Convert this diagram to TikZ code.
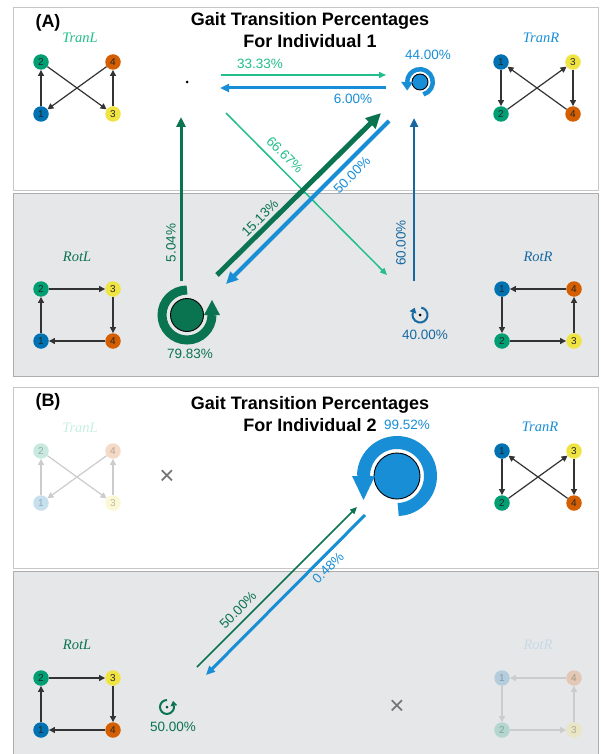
\documentclass[tikz,border=0pt]{standalone}
\usepackage{fontspec}
\setmainfont{Liberation Sans}
\newfontfamily\labfont{Liberation Serif}
\usetikzlibrary{arrows.meta,calc}

\definecolor{tranl}{RGB}{34,190,140}
\definecolor{tranr}{RGB}{24,142,215}
\definecolor{rotl}{RGB}{10,115,80}
\definecolor{rotr}{RGB}{22,105,160}
\definecolor{c1}{RGB}{0,114,178}
\definecolor{c2}{RGB}{0,158,115}
\definecolor{c3}{RGB}{240,228,66}
\definecolor{c4}{RGB}{213,94,0}
\definecolor{panelgray}{RGB}{230,231,233}

\tikzset{
  panelw/.style={draw=black!22, line width=0.9pt, fill=white},
  panelg/.style={draw=black!32, line width=0.9pt, fill=panelgray},
  gnode/.style={circle, minimum size=15.5pt, inner sep=0pt, font=\fontsize{10}{10}\selectfont, text=black!85},
  gedge/.style={-{Triangle[length=6pt,width=6pt]}, line width=1.2pt, draw=black!80},
  fadednode/.style={fill opacity=0.22, text opacity=0.3},
  fadededge/.style={draw=black!20},
  glabel/.style={font=\labfont\itshape\fontsize{14.5}{14.5}\selectfont},
  pct/.style={font=\fontsize{13.5}{13.5}\selectfont, inner sep=0pt},
  ttl/.style={font=\bfseries\fontsize{18}{22}\selectfont, align=center, inner sep=0pt},
  tag/.style={font=\bfseries\fontsize{18}{18}\selectfont, inner sep=0pt},
  tarr/.style 2 args={-{Triangle[length=#1, width=#2]}},
  cross/.style={font=\fontsize{26}{26}\selectfont, text=black!55, inner sep=0pt},
  ctr/.style={circle, draw=black, line width=0.9pt, inner sep=0pt},
  dotc/.style={circle, fill=black, inner sep=0pt, minimum size=3pt},
}

% four nodes of a gait graph: prefix, top-left position, TL, TR, BL, BR numbers, extra style
\newcommand{\gaitquad}[7]{%
  \begin{scope}[shift={(#2)}]
    \node[gnode, fill=c#3, #7] (#1tl) at (0,0) {#3};
    \node[gnode, fill=c#4, #7] (#1tr) at (72,0) {#4};
    \node[gnode, fill=c#5, #7] (#1bl) at (0,-52) {#5};
    \node[gnode, fill=c#6, #7] (#1br) at (72,-52) {#6};
  \end{scope}}
\newcommand{\edgesTranL}[2]{%
  \draw[gedge,#2] (#1bl) -- (#1tl); \draw[gedge,#2] (#1br) -- (#1tr);
  \draw[gedge,#2] (#1tl) -- (#1br); \draw[gedge,#2] (#1tr) -- (#1bl);}
\newcommand{\edgesTranR}[2]{%
  \draw[gedge,#2] (#1tl) -- (#1bl); \draw[gedge,#2] (#1tr) -- (#1br);
  \draw[gedge,#2] (#1bl) -- (#1tr); \draw[gedge,#2] (#1br) -- (#1tl);}
\newcommand{\edgesRotL}[2]{%
  \draw[gedge,#2] (#1tl) -- (#1tr); \draw[gedge,#2] (#1tr) -- (#1br);
  \draw[gedge,#2] (#1br) -- (#1bl); \draw[gedge,#2] (#1bl) -- (#1tl);}
\newcommand{\edgesRotR}[2]{%
  \draw[gedge,#2] (#1tr) -- (#1tl); \draw[gedge,#2] (#1tl) -- (#1bl);
  \draw[gedge,#2] (#1bl) -- (#1br); \draw[gedge,#2] (#1br) -- (#1tr);}

% self-loop ring: center, colour, radius, width, start, end, tip half-width, tip length (signed)
\newcommand{\ringarc}[8]{%
  \pgfmathsetmacro{\myrin}{#3-#7}%
  \pgfmathsetmacro{\myrout}{#3+#7}%
  \pgfmathsetmacro{\mytang}{#6+90}%
  \draw[draw=#2, line width=#4pt] ($(#1)+(#5:#3)$) arc[start angle=#5, end angle=#6, radius=#3];
  \fill[#2] ($(#1)+(#6:\myrin)$) -- ($(#1)+(#6:\myrout)$) -- ($(#1)+(#6:#3)+(\mytang:#8)$) -- cycle;}

\begin{document}
\begin{tikzpicture}[x=1pt, y=1pt]
\useasboundingbox (0,0) rectangle (600,-754);
\fill[white] (0,0) rectangle (600,-754);

% panels
\draw[panelw] (13,-7) rectangle (598.5,-190);
\draw[panelg] (13,-193.5) rectangle (598.5,-376);
\draw[panelw] (13,-387) rectangle (598.5,-568);
\draw[panelg] (13,-571) rectangle (598.5,-758);

% ================= Panel A =================
\node[tag] (tagA) at (48,-23) {(A)};
\node[ttl] (titleA) at (310,-30) {Gait Transition Percentages\\For Individual 1};

% gait graphs
\node[glabel, text=tranl] (labA1) at (80,-38) {TranL};
\gaitquad{aTL}{41,-62}{2}{4}{1}{3}{}
\edgesTranL{aTL}{}
\node[glabel, text=tranr] (labA2) at (541,-38) {TranR};
\gaitquad{aTR}{501,-62}{1}{3}{2}{4}{}
\edgesTranR{aTR}{}
\node[glabel, text=rotl] (labA3) at (77,-257) {RotL};
\gaitquad{aRL}{41,-289}{2}{3}{1}{4}{}
\edgesRotL{aRL}{}
\node[glabel, text=rotr] (labA4) at (538,-257) {RotR};
\gaitquad{aRR}{502,-289}{1}{4}{2}{3}{}
\edgesRotR{aRR}{}

% states
\node[dotc] (sTL) at (187,-82) {};
\node[ctr, fill=tranr, minimum size=16pt] (sTR) at (420,-82) {};
\ringarc{sTR}{tranr}{12.8}{4.5}{-75}{180}{6}{8.5}
\node[pct, text=tranr] (pTR) at (428,-55) {44.00\%};
\node[ctr, fill=rotl, minimum size=33pt] (sRL) at (187,-315) {};
\ringarc{sRL}{rotl}{25}{9}{90}{360}{8}{15}
\node[pct, text=rotl] (pRL) at (190,-354) {79.83\%};
\node[dotc] (sRR) at (420,-315) {};
\ringarc{sRR}{rotr}{7.5}{2}{80}{-200}{3.6}{-5}
\node[pct, text=rotr] (pRR) at (425,-335) {40.00\%};

% transition arrows
\coordinate (a1s) at (221,-75);  \coordinate (a1e) at (386,-75);
\draw[tranl, line width=1.5pt, tarr={7pt}{6pt}] (a1s) -- (a1e);
\node[pct, text=tranl] (l1) at (260,-64) {33.33\%};
\coordinate (a2s) at (386,-88);  \coordinate (a2e) at (220,-88);
\draw[tranr, line width=3pt, tarr={9pt}{8pt}] (a2s) -- (a2e);
\node[pct, text=tranr] (l2) at (353,-99) {6.00\%};
\coordinate (a3s) at (181,-281); \coordinate (a3e) at (181,-117);
\draw[rotl, line width=3pt, tarr={10pt}{9pt}] (a3s) -- (a3e);
\node[pct, text=rotl, rotate=90] (l3) at (171,-243) {5.04\%};
\coordinate (a4s) at (414,-281); \coordinate (a4e) at (414,-118);
\draw[rotr, line width=2.5pt, tarr={9pt}{8pt}] (a4s) -- (a4e);
\node[pct, text=rotr, rotate=90] (l4) at (401,-243) {60.00\%};
\coordinate (a5s) at (226,-113); \coordinate (a5e) at (387,-275);
\draw[tranl, line width=1.5pt, tarr={7pt}{6pt}] (a5s) -- (a5e);
\node[pct, text=tranl, rotate=-45] (l5) at (285,-155) {66.67\%};
\coordinate (a6s) at (217,-275); \coordinate (a6e) at (381,-113);
\draw[rotl, line width=5pt, tarr={15pt}{14pt}] (a6s) -- (a6e);
\node[pct, text=rotl, rotate=45] (l6) at (260,-218) {15.13\%};
\coordinate (a7s) at (389,-121); \coordinate (a7e) at (226,-284);
\draw[tranr, line width=4pt, tarr={12pt}{11pt}] (a7s) -- (a7e);
\node[pct, text=tranr, rotate=45] (l7) at (352,-175) {50.00\%};

% ================= Panel B =================
\node[tag] (tagB) at (48,-402) {(B)};
\node[ttl] (titleB) at (310,-414) {Gait Transition Percentages\\For Individual 2};

\node[glabel, text=tranl!25] (labB1) at (80,-428) {TranL};
\gaitquad{bTL}{41,-451}{2}{4}{1}{3}{fadednode}
\edgesTranL{bTL}{fadededge}
\node[glabel, text=tranr] (labB2) at (540,-427) {TranR};
\gaitquad{bTR}{502,-451}{1}{3}{2}{4}{}
\edgesTranR{bTR}{}
\node[glabel, text=rotl] (labB3) at (77,-645) {RotL};
\gaitquad{bRL}{41,-678}{2}{3}{1}{4}{}
\edgesRotL{bRL}{}
\node[glabel, text=rotr!25] (labB4) at (538,-645) {RotR};
\gaitquad{bRR}{502,-678}{1}{4}{2}{3}{fadednode}
\edgesRotR{bRR}{fadededge}

\node[cross] (xTL) at (167,-477) {×};
\node[cross] (xRR) at (397,-707) {×};

\node[ctr, fill=tranr, minimum size=46pt] (tTR) at (397,-476) {};
\ringarc{tTR}{tranr}{33.5}{13}{-88}{180}{11.5}{24}
\node[pct, text=tranr] (qTR) at (407,-425) {99.52\%};
\node[dotc, fill=rotl!70!black] (tRL) at (167,-707) {};
\ringarc{tRL}{rotl}{7}{2}{90}{370}{3.5}{5}
\node[pct, text=rotl] (qRL) at (173,-727) {50.00\%};

\coordinate (b1s) at (197,-667); \coordinate (b1e) at (357,-507);
\draw[rotl, line width=1.5pt, tarr={7pt}{6pt}] (b1s) -- (b1e);
\node[pct, text=rotl, rotate=45] (m1) at (238,-610) {50.00\%};
\coordinate (b2s) at (365,-515); \coordinate (b2e) at (206,-675);
\draw[tranr, line width=3pt, tarr={9pt}{8pt}] (b2s) -- (b2e);
\node[pct, text=tranr, rotate=45] (m2) at (328,-568) {0.48\%};
\end{tikzpicture}
\end{document}
